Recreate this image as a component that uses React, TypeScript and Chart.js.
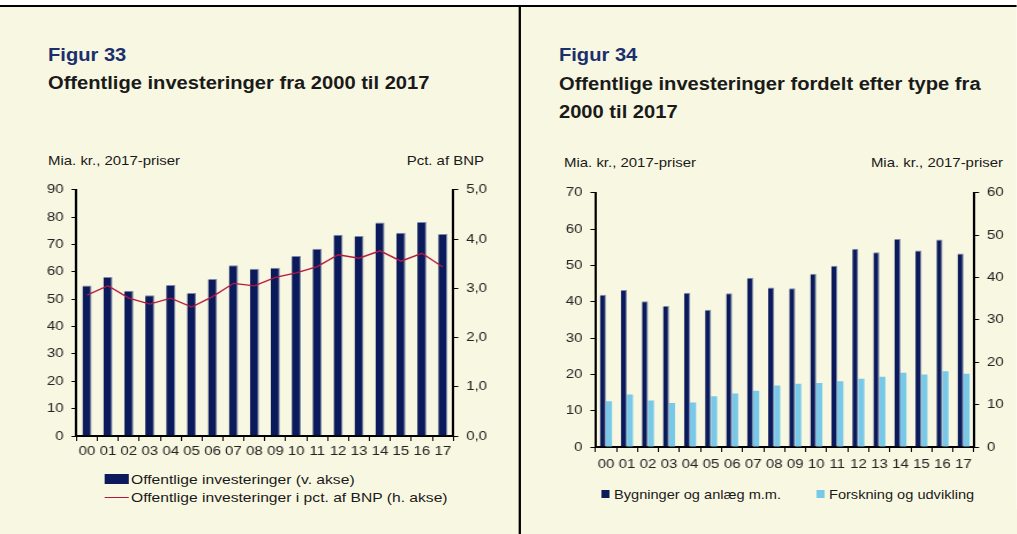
import React, { useEffect, useRef } from "react";
import { Chart, registerables } from "chart.js";

Chart.register(...registerables);

// ---------- data ----------
const years = ["00", "01", "02", "03", "04", "05", "06", "07", "08", "09", "10", "11", "12", "13", "14", "15", "16", "17"];

// Figur 33
const offentligeInvesteringer = [55.0, 58.1, 53.1, 51.4, 55.2, 52.3, 57.4, 62.4, 61.1, 61.5, 65.8, 68.4, 73.6, 73.1, 78.0, 74.3, 78.2, 73.8];
const pctAfBnp = [2.86, 3.05, 2.8, 2.68, 2.8, 2.62, 2.83, 3.1, 3.05, 3.22, 3.31, 3.44, 3.68, 3.61, 3.76, 3.55, 3.71, 3.43];
const fig33LeftTicks = ["0", "10", "20", "30", "40", "50", "60", "70", "80", "90"];
const fig33RightTicks = ["0,0", "1,0", "2,0", "3,0", "4,0", "5,0"];

// Figur 34
const bygningerOgAnlaeg = [41.9, 43.2, 40.1, 38.8, 42.5, 37.8, 42.3, 46.6, 43.9, 43.7, 47.7, 49.9, 54.6, 53.6, 57.3, 54.1, 57.1, 53.3];
const forskningOgUdvikling = [10.8, 12.4, 11.0, 10.4, 10.5, 12.0, 12.6, 13.3, 14.5, 14.9, 15.1, 15.5, 16.1, 16.6, 17.5, 17.1, 17.9, 17.3];
const fig34LeftTicks = ["0", "10", "20", "30", "40", "50", "60", "70"];
const fig34RightTicks = ["0", "10", "20", "30", "40", "50", "60"];

// ---------- styling ----------
const S = 1.15; // horizontal stretch of the reference
const FONT = "Arial, 'Liberation Sans', Helvetica, sans-serif";
const CREAM = "#F8F7E1";
const NAVY = "#0A1A5A";
const LIGHT = "#78C8E8";
const RED = "#B3173F";
const FIG_BLUE = "#1B2E6E";
const TEXT = "#1A1A1A";
const TICK_SIZE = 13;

const X = (v: number) => v / S;

type Box = { left: number; top: number; width: number; height: number; padTop: number; yW: number; y1W: number; xH: number };

function yAxis(tickLabels: string[], min: number, max: number, step: number, pos: "left" | "right", width: number) {
  return {
    position: pos,
    min,
    max,
    grid: { drawOnChartArea: false, drawTicks: true, tickLength: X(5), color: "#000", lineWidth: 1 },
    border: { display: true, color: "#000", width: 2 },
    ticks: {
      color: "#222",
      font: { family: FONT, size: TICK_SIZE },
      padding: X(8),
      stepSize: step,
      callback: (_v: any, i: number) => tickLabels[i],
    },
    afterFit: (s: any) => {
      s.width = X(width);
    },
  };
}

function makeXAxis(padding: number, height: number) {
  return {
    type: "category" as const,
    offset: true,
    grid: { offset: true, drawOnChartArea: false, drawTicks: true, tickLength: 5, color: "#000", lineWidth: 1 },
    border: { display: true, color: "#000", width: 2 },
    ticks: { color: "#222", font: { family: FONT, size: 13 }, padding, maxRotation: 0, autoSkip: false },
    afterFit: (s: any) => {
      s.height = height;
    },
  };
}

function ChartCanvas({ box, config }: { box: Box; config: any }) {
  const ref = useRef<HTMLCanvasElement>(null);
  useEffect(() => {
    const chart = new Chart(ref.current as HTMLCanvasElement, config);
    return () => chart.destroy();
  }, []);
  return (
    <div style={{ position: "absolute", left: X(box.left), top: box.top, width: X(box.width), height: box.height }}>
      <canvas ref={ref} />
    </div>
  );
}

const box33: Box = { left: 30, top: 175, width: 470, height: 291, padTop: 14, yW: 46.5, y1W: 47.7, xH: 30 };
const box34: Box = { left: 545, top: 178, width: 465, height: 301, padTop: 13, yW: 50.3, y1W: 36, xH: 32 };

const config33 = {
  type: "bar",
  data: {
    labels: years,
    datasets: [
      {
        type: "line",
        label: "Offentlige investeringer i pct. af BNP (h. akse)",
        data: pctAfBnp,
        yAxisID: "y1",
        borderColor: RED,
        borderWidth: 1.3,
        pointRadius: 0,
        tension: 0,
        order: 0,
      },
      {
        type: "bar",
        label: "Offentlige investeringer (v. akse)",
        data: offentligeInvesteringer,
        yAxisID: "y",
        backgroundColor: NAVY,
        borderColor: "#7D88AE",
        borderWidth: { top: 1, right: 1, left: 0, bottom: 0 },
        borderSkipped: false,
        categoryPercentage: 0.9,
        barPercentage: 0.48,
        order: 1,
      },
    ],
  },
  options: {
    responsive: true,
    maintainAspectRatio: false,
    animation: false,
    layout: { padding: { top: box33.padTop, left: 0, right: 0, bottom: 0 } },
    plugins: { legend: { display: false }, tooltip: { enabled: false } },
    scales: {
      x: makeXAxis(3, box33.xH),
      y: yAxis(fig33LeftTicks, 0, 90, 10, "left", box33.yW),
      y1: yAxis(fig33RightTicks, 0, 5, 1, "right", box33.y1W),
    },
  },
};

const config34 = {
  type: "bar",
  data: {
    labels: years,
    datasets: [
      {
        label: "Bygninger og anlæg m.m.",
        data: bygningerOgAnlaeg,
        yAxisID: "y",
        backgroundColor: NAVY,
        borderColor: "#7D88AE",
        borderWidth: { top: 1, right: 1, left: 0, bottom: 0 },
        borderSkipped: false,
        categoryPercentage: 0.57,
        barPercentage: 1,
      },
      {
        label: "Forskning og udvikling",
        data: forskningOgUdvikling,
        yAxisID: "y1",
        backgroundColor: LIGHT,
        borderWidth: 0,
        categoryPercentage: 0.57,
        barPercentage: 1,
      },
    ],
  },
  options: {
    responsive: true,
    maintainAspectRatio: false,
    animation: false,
    layout: { padding: { top: box34.padTop, left: 0, right: 0, bottom: 0 } },
    plugins: { legend: { display: false }, tooltip: { enabled: false } },
    scales: {
      x: makeXAxis(5, box34.xH),
      y: yAxis(fig34LeftTicks, 0, 70, 10, "left", box34.yW),
      y1: yAxis(fig34RightTicks, 0, 60, 10, "right", box34.y1W),
    },
  },
};

function Txt(props: { x: number; cy: number; size: number; bold?: boolean; color?: string; lh?: number; right?: boolean; children: any }) {
  const lh = props.lh ?? Math.round(props.size * 1.3);
  const style: any = {
    position: "absolute",
    top: props.cy - lh / 2,
    fontFamily: FONT,
    fontSize: props.size,
    fontWeight: props.bold ? 700 : 400,
    color: props.color ?? TEXT,
    lineHeight: `${lh}px`,
    whiteSpace: "nowrap",
  };
  if (props.right) {
    style.left = 0;
    style.width = X(props.x);
    style.textAlign = "right";
  } else {
    style.left = X(props.x);
  }
  return <div style={style}>{props.children}</div>;
}

function Rect({ x, y, w, h, color }: { x: number; y: number; w: number; h: number; color: string }) {
  return <div style={{ position: "absolute", left: X(x), top: y, width: X(w), height: h, background: color }} />;
}

export default function App() {
  return (
    <div style={{ position: "fixed", left: 0, top: 0, width: 1017, height: 534, background: "#fff", overflow: "hidden" }}>
      <div
        style={{
          position: "absolute",
          left: 0,
          top: 0,
          width: X(1017),
          height: 534,
          transform: `scaleX(${S})`,
          transformOrigin: "0 0",
        }}
      >
        <Rect x={0} y={7} w={1017} h={527} color={CREAM} />
        <Rect x={0} y={5} w={1017} h={2} color="#000" />
        <Rect x={519} y={5} w={2} h={529} color="#000" />

        {/* Figur 33 */}
        <Txt x={48} cy={55} size={17.5} bold color={FIG_BLUE} lh={20}>Figur 33</Txt>
        <Txt x={48} cy={83} size={17.5} bold lh={20}>Offentlige investeringer fra 2000 til 2017</Txt>
        <Txt x={48} cy={161} size={13} lh={16}>Mia. kr., 2017-priser</Txt>
        <Txt x={484} cy={161} size={13} lh={16} right>Pct. af BNP</Txt>
        <ChartCanvas box={box33} config={config33} />
        <Rect x={105} y={474} w={24} h={10} color={NAVY} />
        <Txt x={131} cy={479.5} size={13.6} lh={16}>Offentlige investeringer (v. akse)</Txt>
        <Rect x={105} y={497} w={24} h={1.3} color={RED} />
        <Txt x={131} cy={498} size={13.6} lh={16}>Offentlige investeringer i pct. af BNP (h. akse)</Txt>

        {/* Figur 34 */}
        <Txt x={559} cy={55} size={17.5} bold color={FIG_BLUE} lh={20}>Figur 34</Txt>
        <Txt x={559} cy={83.5} size={17.5} bold lh={20}>Offentlige investeringer fordelt efter type fra</Txt>
        <Txt x={559} cy={111.5} size={17.5} bold lh={20}>2000 til 2017</Txt>
        <Txt x={564} cy={163} size={13} lh={16}>Mia. kr., 2017-priser</Txt>
        <Txt x={1003} cy={163} size={13} lh={16} right>Mia. kr., 2017-priser</Txt>
        <ChartCanvas box={box34} config={config34} />
        <Rect x={602} y={490} w={8} h={8} color={NAVY} />
        <Txt x={614} cy={494.5} size={12.7} lh={16}>Bygninger og anlæg m.m.</Txt>
        <Rect x={817} y={490} w={8} h={8} color={LIGHT} />
        <Txt x={829} cy={494.5} size={12.7} lh={16}>Forskning og udvikling</Txt>
      </div>
    </div>
  );
}
